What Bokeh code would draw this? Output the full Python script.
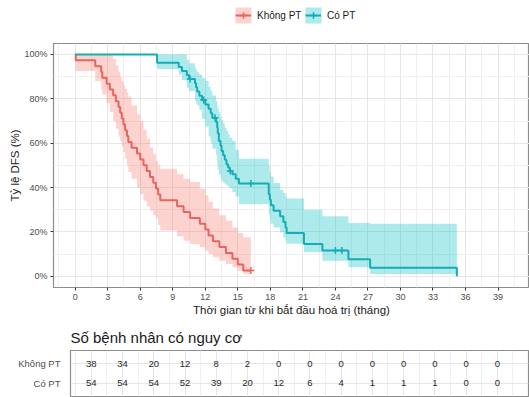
from bokeh.plotting import figure
from bokeh.models import (Legend, LegendItem, SingleIntervalTicker, PrintfTickFormatter,
                          ColumnDataSource, FactorRange, Range1d)
from bokeh.embed import file_html
from bokeh.resources import INLINE
from bokeh.core.properties import value

FONT = "Liberation Sans"

groups = ["Không PT", "Có PT"]
line_colors = ["#E8645F", "#14ADB5"]
band_colors = ["#F8766D", "#00BFC4"]

# Không PT: Kaplan-Meier step curve (months, %)
red_time = [0, 0.05, 1.85, 2.4, 2.5, 2.9, 3.2, 3.5, 3.75, 4.0, 4.15, 4.3, 4.45, 4.6, 4.77, 4.9,
            5.2, 5.7, 6.0, 6.3, 6.6, 6.9, 7.2, 7.45, 7.65, 7.85, 9.4, 10.0, 10.6, 11.5, 12.0,
            12.3, 12.7, 13.3, 13.9, 14.5, 15.0, 15.5, 16.2]
red_surv = [100, 97.4, 94.7, 92.1, 89.5, 86.8, 84.2, 81.6, 78.9, 76.3, 73.7, 71.1, 68.4, 65.8,
            63.2, 60.5, 57.9, 55.3, 52.6, 50.0, 47.4, 44.7, 42.1, 39.5, 36.8, 34.2, 31.6, 28.9,
            26.3, 23.7, 21.1, 18.4, 15.8, 13.2, 10.5, 7.9, 5.3, 2.6, 2.6]
red_upper = [100, 100, 100, 100, 100, 100, 100, 98, 95, 92, 90, 88, 86, 84.5, 83, 81,
             77, 73, 70, 66, 62, 58, 55, 52, 50, 48.5, 46, 44, 42.5, 39.5, 36.5, 33.5, 30.5,
             27.5, 25, 22, 19.5, 17.6, 17.6]
red_lower = [100, 92.5, 88, 84, 82, 78, 74, 70, 66.5, 63, 61, 58.5, 56, 53, 50, 47,
             44, 40, 37, 34, 31.5, 29.5, 27.5, 26, 23, 20.6, 18, 16, 14.5, 13, 11.5, 10, 8.6,
             7, 5.5, 4, 2.5, 1, 1]
red_censor_time = [16.2]
red_censor_surv = [2.6]

# Có PT
teal_time = [0, 7.55, 9.55, 9.85, 10.3, 10.5, 11.05, 11.15, 11.25, 11.45, 11.7, 12.0, 12.3, 12.5,
             12.65, 13.0, 13.1, 13.15, 13.25, 13.4, 13.5, 13.65, 13.8, 13.95, 14.1, 14.25, 14.5,
             14.8, 15.1, 17.85, 17.95, 18.05, 18.3, 18.9, 19.2, 19.4, 19.5, 21.1, 22.8, 25.2,
             27.2, 35.2]
teal_surv = [100, 96.3, 94.4, 92.6, 90.7, 88.9, 87.0, 85.2, 83.3, 81.4, 79.5, 77.5, 75.5, 73.5,
             71.5, 69.4, 67.0, 64.5, 61.0, 59.0, 56.5, 54.5, 52.5, 50.5, 49.0, 47.5, 46.0, 44.0,
             41.8, 37.0, 34.5, 32.0, 29.5, 27.0, 24.5, 22.0, 19.5, 14.5, 11.6, 7.6, 3.8, 0]
teal_upper = [100, 100, 100, 100, 97.5, 96, 94, 93, 92, 91, 89.5, 88, 85.5, 83.5, 81.5, 79, 77,
              75.5, 74, 72, 70.5, 69, 67, 65.5, 64, 62.5, 61, 57, 53, 50, 47, 45, 42, 39, 37.5,
              36, 35, 30, 27, 24, 23.6, 23.6]
teal_lower = [100, 93.5, 91, 88.5, 85, 83.5, 79, 78, 77, 75, 71, 67.5, 63, 60, 57.5, 54.4, 50,
              48, 46, 44.5, 43, 42, 41.5, 41, 40.5, 39.5, 38, 36, 32.6, 28, 25.5, 23.6, 22, 19.8,
              17.5, 16, 14.6, 10.8, 7, 4, 1, 1]
teal_censor_time = [10.6, 11.85, 12.9, 14.3, 16.2, 24.0, 24.6]
teal_censor_surv = [88.9, 79.5, 71.5, 47.5, 41.8, 11.6, 11.6]

# risk table
risk_times = [0, 3, 6, 9, 12, 15, 18, 21, 24, 27, 30, 33, 36, 39]
risk_khong = [38, 34, 20, 12, 8, 2, 0, 0, 0, 0, 0, 0, 0, 0]
risk_co = [54, 54, 54, 52, 39, 20, 12, 6, 4, 1, 1, 1, 0, 0]

x_title = "Thời gian từ khi bắt đầu hoá trị (tháng)"
y_title = "Tỷ lệ DFS (%)"
table_title = "Số bệnh nhân có nguy cơ"

curves = [
    (red_time, red_surv, red_lower, red_upper, red_censor_time, red_censor_surv),
    (teal_time, teal_surv, teal_lower, teal_upper, teal_censor_time, teal_censor_surv),
]

# ---------------- legend strip (own small figure above the plot) ----------------
# the same series are drawn here outside the visible range; only their legend keys show
lg = figure(width=529, height=43, x_range=Range1d(-200, -199), y_range=Range1d(-200, -199),
            output_backend="svg", toolbar_location=None,
            min_border_left=0, min_border_right=0, min_border_top=0, min_border_bottom=0)
lg.axis.visible = False
lg.grid.visible = False
lg.outline_line_color = None

key_left = [235, 305]          # legend key positions (px, layout only)
square_legends = []
line_legends = []
for i, (t, s, lo, up, ct, cs) in enumerate(curves):
    sq = lg.scatter(x=t, y=up, marker="square", fill_color=band_colors[i], fill_alpha=0.32,
                    line_color=None)
    l = lg.step(x=t, y=s, mode="after", line_color=line_colors[i], line_width=2)
    c = lg.scatter(x=ct, y=cs, marker="cross", size=7, line_color=line_colors[i], line_width=1.5)
    # big-box legend: its square marker (0.4 x box) gives the 16px shaded key
    square_legends.append(Legend(items=[LegendItem(label=" ", renderers=[sq])],
                                 location=(key_left[i] - 12, 8),
                                 border_line_color=None, background_fill_alpha=0,
                                 label_text_font_size="1px", glyph_width=40, glyph_height=40,
                                 padding=0, margin=0, label_standoff=0))
    line_legends.append(Legend(items=[LegendItem(label=groups[i], renderers=[l, c])],
                               location=(key_left[i], 20),
                               border_line_color=None, background_fill_alpha=0,
                               label_text_font=FONT, label_text_font_size="10px",
                               label_text_color="#1A1A1A", glyph_width=16, glyph_height=16,
                               padding=0, margin=0, label_standoff=6))
for leg in square_legends + line_legends:
    lg.add_layout(leg)

# ---------------- main KM plot ----------------
p = figure(width=529, height=275, x_range=Range1d(-2.0, 41.9), y_range=Range1d(-5.1, 104.96),
           output_backend="svg", toolbar_location=None,
           min_border_left=53, min_border_right=0, min_border_top=0, min_border_bottom=31)

for i, (t, s, lo, up, ct, cs) in enumerate(curves):
    p.varea_step(x=t, y1=lo, y2=up, step_mode="after",
                 fill_color=band_colors[i], fill_alpha=0.32)
    p.step(x=t, y=s, mode="after", line_color=line_colors[i], line_width=2)
    p.scatter(x=ct, y=cs, marker="cross", size=7, line_color=line_colors[i], line_width=1.5)

p.xaxis.ticker = SingleIntervalTicker(interval=3, num_minor_ticks=2)
p.yaxis.ticker = SingleIntervalTicker(interval=20, num_minor_ticks=2)
p.yaxis.formatter = PrintfTickFormatter(format="%d%%")
p.xaxis.axis_label = x_title
p.yaxis.axis_label = y_title
for ax in (p.xaxis, p.yaxis):
    ax.axis_line_color = None
    ax.major_tick_line_color = "#333333"
    ax.major_tick_out = 3
    ax.major_tick_in = 0
    ax.minor_tick_line_color = None
    ax.major_label_text_font = FONT
    ax.major_label_text_font_size = "9px"
    ax.major_label_text_color = "#4D4D4D"
    ax.major_label_standoff = 2
    ax.axis_label_text_font = FONT
    ax.axis_label_text_font_size = "11.5px"
    ax.axis_label_text_font_style = "normal"
    ax.axis_label_text_color = "#1A1A1A"
    ax.axis_label_standoff = 1
p.yaxis.axis_label_standoff = 0
for g in (p.xgrid, p.ygrid):
    g.grid_line_color = "#E6E6E6"
    g.minor_grid_line_color = "#EFEFEF"
p.outline_line_color = "#8C8C8C"
p.outline_line_width = 1.2
p.background_fill_color = "white"

# ---------------- risk table ----------------
tb = figure(width=529, height=79, x_range=Range1d(-2.0, 42.0),
            y_range=FactorRange(factors=["Có PT", "Không PT"], range_padding=0.21,
                                range_padding_units="absolute"),
            output_backend="svg", toolbar_location=None,
            min_border_left=70, min_border_right=1, min_border_top=32, min_border_bottom=1)
tb.title.text = table_title
tb.title.text_font = FONT
tb.title.text_font_size = "15px"
tb.title.text_font_style = "normal"
tb.title.text_color = "#1A1A1A"

src = ColumnDataSource(dict(
    x=risk_times + risk_times,
    g=[groups[0]] * len(risk_times) + [groups[1]] * len(risk_times),
    n=[str(v) for v in risk_khong] + [str(v) for v in risk_co],
))
tb.text(x="x", y="g", text="n", source=src, text_font=value(FONT),
        text_font_size=value("9.5px"), text_align="center", text_baseline="middle",
        text_color="#262626")
tb.xaxis.visible = False
tb.xaxis.ticker = SingleIntervalTicker(interval=3, num_minor_ticks=2)
tb.xgrid.ticker = SingleIntervalTicker(interval=3, num_minor_ticks=2)
tb.yaxis.axis_line_color = None
tb.yaxis.major_tick_line_color = None
tb.yaxis.major_label_text_font = FONT
tb.yaxis.major_label_text_font_size = "9.5px"
tb.yaxis.major_label_text_color = "#4D4D4D"
tb.yaxis.major_label_standoff = 4
tb.xgrid.grid_line_color = "#E6E6E6"
tb.xgrid.minor_grid_line_color = "#EFEFEF"
tb.ygrid.grid_line_color = "#E6E6E6"
tb.outline_line_color = "#8C8C8C"
tb.outline_line_width = 1.2

open("out.html", "w").write(file_html([lg, p, tb], INLINE))
